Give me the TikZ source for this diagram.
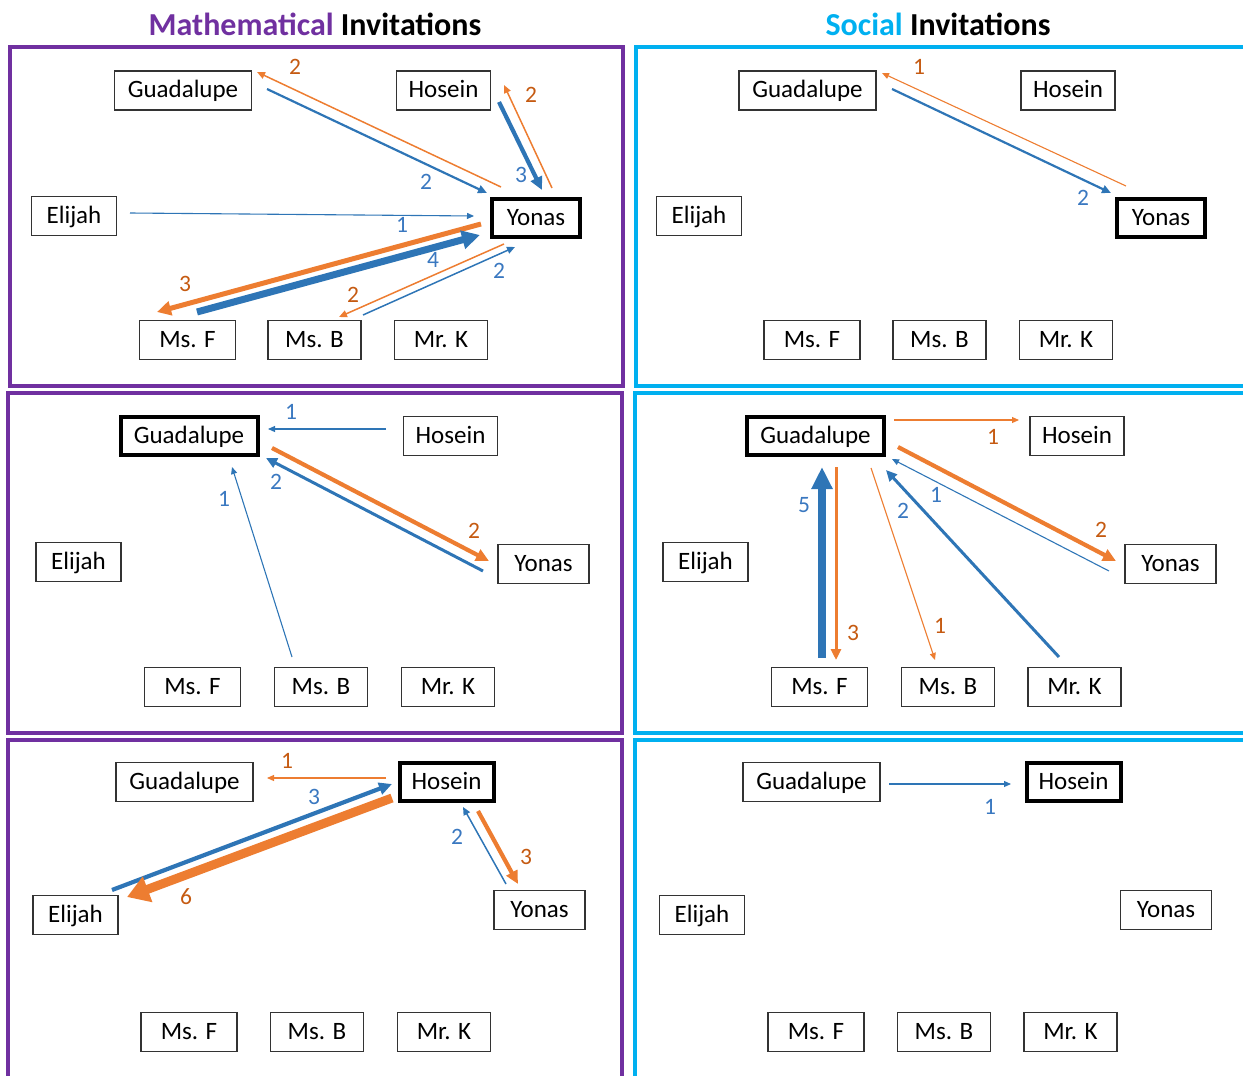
\documentclass[tikz,border=0pt]{standalone}
\usepackage{fontspec}
\setmainfont{Carlito}
\usetikzlibrary{arrows.meta,calc}
\definecolor{mpurple}{HTML}{7030A0}
\definecolor{scyan}{HTML}{00B0F0}
\definecolor{ablue}{HTML}{2E75B6}
\definecolor{aorange}{HTML}{ED7D31}
\definecolor{lorange}{HTML}{C55A11}
\definecolor{lblue}{HTML}{3A78C0}
\begin{document}
\begin{tikzpicture}[x=1pt,y=-1pt,
  pbox/.style={draw=black!80, line width=1.2pt, minimum height=39pt, inner sep=0pt,
    font=\fontsize{25}{25}\selectfont, text height=18.75pt, text depth=4pt},
  hbox/.style={pbox, draw=black, line width=4pt, minimum height=38pt},
  wG/.style={minimum width=137pt}, wH/.style={minimum width=94pt},
  wE/.style={minimum width=85pt},  wY/.style={minimum width=91pt},
  wF/.style={minimum width=96pt},  wB/.style={minimum width=93pt},
  wK/.style={minimum width=93pt},
  hG/.style={minimum width=137pt}, hH/.style={minimum width=94pt},
  hY/.style={minimum width=88pt},
  frameM/.style={draw=mpurple, line width=4pt},
  frameS/.style={draw=scyan, line width=4pt},
  ob/.style={draw=aorange}, bb/.style={draw=ablue},
  t1/.style={line width=1.1pt, -{Triangle[length=7pt,width=6pt]}},
  t15/.style={line width=1.5pt, -{Triangle[length=8pt,width=7pt]}},
  t2/.style={line width=2.2pt, -{Triangle[length=9pt,width=8pt]}},
  t3/.style={line width=3pt, -{Triangle[length=11pt,width=10pt]}},
  t4/.style={line width=4.2pt, -{Triangle[length=13pt,width=12pt]}},
  t5/.style={line width=5pt, -{Triangle[length=14pt,width=14pt]}},
  t7/.style={line width=7pt, -{Triangle[length=18pt,width=18pt]}},
  t8/.style={line width=8pt, -{Triangle[length=22pt,width=20pt]}},
  t9/.style={line width=9pt, -{Triangle[length=22pt,width=26pt]}},
  lo/.style={text=lorange, font=\fontsize{23.5}{23.5}\selectfont, inner sep=0pt},
  lb/.style={text=lblue, font=\fontsize{23.5}{23.5}\selectfont, inner sep=0pt},
  ttl/.style={font=\fontsize{32}{32}\selectfont\bfseries, inner sep=0pt}
]
\useasboundingbox (0,0) rectangle (1243,1076);
\clip (0,0) rectangle (1243,1076);

% headings
\node[ttl] (tmath) at (315,24) {\textcolor{mpurple}{Mathematical} Invitations};
\node[ttl] (tsoc) at (938,24) {\textcolor{scyan}{Social} Invitations};

% panel frames
\draw[frameM] (10,47) rectangle (623,386);
\draw[frameM] (8,393) rectangle (622,733);
\draw[frameM] (8,740) rectangle (622,1100);
\draw[frameS] (636,47) rectangle (1270,386);
\draw[frameS] (635,393) rectangle (1270,733);
\draw[frameS] (635,740) rectangle (1270,1100);

% ---------- mathematical, Yonas ----------
\node[pbox,wG] (p1g) at (183,90.5) {Guadalupe};
\node[pbox,wH] (p1h) at (443.5,90.5) {Hosein};
\node[pbox,wE] (p1e) at (74,216) {Elijah};
\node[hbox,hY] (p1y) at (536,218) {Yonas};
\node[pbox,wF] (p1f) at (187.5,340) {Ms. F};
\node[pbox,wB] (p1b) at (314.5,340) {Ms. B};
\node[pbox,wK] (p1k) at (441,340) {Mr. K};

\draw[ob,t15] ($(p1y)+(-35,-31)$) -- ($(p1g)+(74,-18.5)$);
\draw[bb,t2] ($(p1g)+(84,-1.5)$) -- ($(p1y)+(-49,-25)$);
\draw[bb,t4] ($(p1h)+(55.5,11.5)$) -- ($(p1y)+(6,-28)$);
\draw[ob,t15] ($(p1y)+(16,-30)$) -- ($(p1h)+(60.5,-5.5)$);
\draw[bb,t1] ($(p1e)+(56,-3)$) -- ($(p1y)+(-62,-2)$);
\draw[ob,t5] ($(p1y)+(-55,6)$) -- ($(p1f)+(-30.5,-28)$);
\draw[bb,t7] ($(p1f)+(9.5,-28)$) -- ($(p1y)+(-56,17)$);
\draw[ob,t15] ($(p1y)+(-32,26)$) -- ($(p1b)+(24.5,-23)$);
\draw[bb,t15] ($(p1b)+(48.5,-25)$) -- ($(p1y)+(-21,29)$);

\node[lo] (n11) at (295,67) {2};
\node[lb] (n12) at (426,182) {2};
\node[lb] (n13) at (521,175) {3};
\node[lo] (n14) at (531,95) {2};
\node[lb] (n15) at (402,225) {1};
\node[lo] (n16) at (185,284) {3};
\node[lb] (n17) at (433,260) {4};
\node[lo] (n18) at (353,295) {2};
\node[lb] (n19) at (499,271) {2};

% ---------- social, Yonas ----------
\node[pbox,wG] (p2g) at (807.5,90.5) {Guadalupe};
\node[pbox,wH] (p2h) at (1068,90.5) {Hosein};
\node[pbox,wE] (p2e) at (699,216) {Elijah};
\node[hbox,hY] (p2y) at (1161,218) {Yonas};
\node[pbox,wF] (p2f) at (812,340) {Ms. F};
\node[pbox,wB] (p2b) at (939.5,340) {Ms. B};
\node[pbox,wK] (p2k) at (1066,340) {Mr. K};

\draw[ob,t1] ($(p2y)+(-35,-32)$) -- ($(p2g)+(74.5,-17.5)$);
\draw[bb,t2] ($(p2g)+(84.5,-1.5)$) -- ($(p2y)+(-50,-25)$);

\node[lo] (n21) at (919,67) {1};
\node[lb] (n22) at (1083,198) {2};

% ---------- mathematical, Guadalupe ----------
\node[hbox,hG] (p3g) at (189,436) {Guadalupe};
\node[pbox,wH] (p3h) at (450.5,436) {Hosein};
\node[pbox,wE] (p3e) at (78.5,562) {Elijah};
\node[pbox,wY] (p3y) at (543.5,564) {Yonas};
\node[pbox,wF] (p3f) at (192.5,687) {Ms. F};
\node[pbox,wB] (p3b) at (321,687) {Ms. B};
\node[pbox,wK] (p3k) at (448,687) {Mr. K};

\draw[bb,t1] ($(p3h)+(-64.5,-7)$) -- ($(p3g)+(79,-7)$);
\draw[ob,t4] ($(p3g)+(83,12)$) -- ($(p3y)+(-54.5,-3)$);
\draw[bb,t3] ($(p3y)+(-60.5,7)$) -- ($(p3g)+(77,22)$);
\draw[bb,t1] ($(p3b)+(-29,-30)$) -- ($(p3g)+(43,31)$);

\node[lb] (n31) at (291,412) {1};
\node[lo] (n32) at (474,531) {2};
\node[lb] (n33) at (276,482) {2};
\node[lb] (n34) at (224,499) {1};

% ---------- social, Guadalupe ----------
\node[hbox,hG] (p4g) at (815.5,436) {Guadalupe};
\node[pbox,wH] (p4h) at (1077,436) {Hosein};
\node[pbox,wE] (p4e) at (705.5,562) {Elijah};
\node[pbox,wY] (p4y) at (1170.5,564) {Yonas};
\node[pbox,wF] (p4f) at (819.5,687) {Ms. F};
\node[pbox,wB] (p4b) at (948,687) {Ms. B};
\node[pbox,wK] (p4k) at (1074.5,687) {Mr. K};

\draw[ob,t1] ($(p4g)+(78.5,-16)$) -- ($(p4h)+(-58,-16)$);
\draw[ob,t4] ($(p4g)+(82.5,11)$) -- ($(p4y)+(-54.5,-3)$);
\draw[bb,t1] ($(p4y)+(-61.5,7)$) -- ($(p4g)+(76.5,23)$);
\draw[bb,t8] ($(p4f)+(2.5,-29)$) -- ($(p4g)+(6.5,31)$);
\draw[ob,t3] ($(p4g)+(20.5,31)$) -- ($(p4f)+(16.5,-27)$);
\draw[ob,t1] ($(p4g)+(55.5,32)$) -- ($(p4b)+(-13,-27)$);
\draw[bb,t3] ($(p4k)+(-15.5,-30)$) -- ($(p4g)+(70.5,34)$);

\node[lo] (n41) at (993,437) {1};
\node[lo] (n42) at (1101,530) {2};
\node[lb] (n43) at (936,495) {1};
\node[lb] (n44) at (804,505) {5};
\node[lo] (n45) at (853,633) {3};
\node[lo] (n46) at (940,626) {1};
\node[lb] (n47) at (903,511) {2};

% ---------- mathematical, Hosein ----------
\node[pbox,wG] (p5g) at (184.5,782) {Guadalupe};
\node[hbox,hH] (p5h) at (446.5,782) {Hosein};
\node[pbox,wE] (p5e) at (75.5,915) {Elijah};
\node[pbox,wY] (p5y) at (539.5,910) {Yonas};
\node[pbox,wF] (p5f) at (189,1032) {Ms. F};
\node[pbox,wB] (p5b) at (317,1032) {Ms. B};
\node[pbox,wK] (p5k) at (444,1032) {Mr. K};

\draw[ob,t1] ($(p5h)+(-60.5,-4)$) -- ($(p5g)+(82.5,-4)$);
\draw[bb,t4] ($(p5e)+(36.5,-25)$) -- ($(p5h)+(-54.5,2)$);
\draw[ob,t9] ($(p5h)+(-54.5,16)$) -- ($(p5e)+(51.5,-18)$);
\draw[bb,t15] ($(p5y)+(-33.5,-26)$) -- ($(p5h)+(16.5,25)$);
\draw[ob,t4] ($(p5h)+(31.5,29)$) -- ($(p5y)+(-21.5,-26)$);

\node[lo] (n51) at (287,761) {1};
\node[lb] (n52) at (314,797) {3};
\node[lo] (n53) at (186,897) {6};
\node[lb] (n54) at (457,837) {2};
\node[lo] (n55) at (526,857) {3};

% ---------- social, Hosein ----------
\node[pbox,wG] (p6g) at (811.5,782) {Guadalupe};
\node[hbox,hH] (p6h) at (1073.5,782) {Hosein};
\node[pbox,wE] (p6e) at (702,915) {Elijah};
\node[pbox,wY] (p6y) at (1166,910) {Yonas};
\node[pbox,wF] (p6f) at (816,1032) {Ms. F};
\node[pbox,wB] (p6b) at (944,1032) {Ms. B};
\node[pbox,wK] (p6k) at (1070.5,1032) {Mr. K};

\draw[bb,t1] ($(p6g)+(77.5,2)$) -- ($(p6h)+(-62.5,2)$);

\node[lb] (n61) at (990,807) {1};
\end{tikzpicture}
\end{document}
